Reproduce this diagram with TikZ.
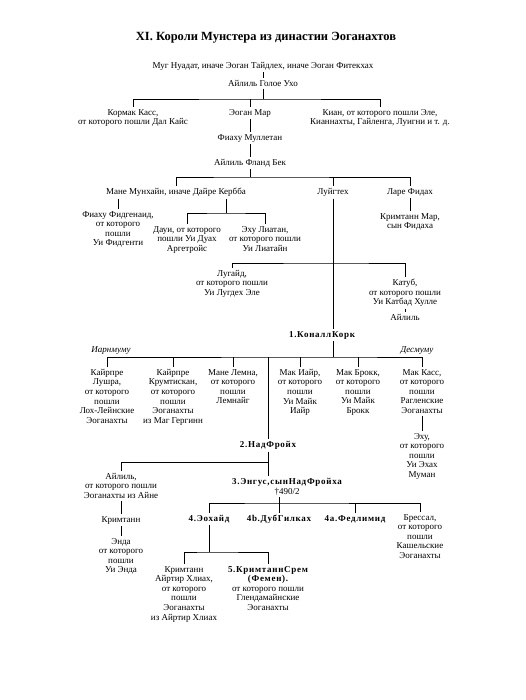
\documentclass[tikz,border=0pt]{standalone}
\usepackage{fontspec}
\setmainfont{Liberation Serif}
\usepackage{tikz}
\newcommand{\kingfont}{\bfseries\addfontfeature{LetterSpace=8}}
\tikzset{
  person/.style={anchor=north, align=center, inner sep=2pt, font=\fontsize{9}{9.6}\selectfont},
  king/.style={person, font=\fontsize{9}{9.6}\selectfont\kingfont},
  branch/.style={font=\fontsize{9}{9.6}\selectfont\itshape, inner sep=1pt},
  heading/.style={font=\fontsize{12.5}{14}\selectfont\bfseries},
  link/.style={line width=0.6pt}
}
\begin{document}
\begin{tikzpicture}[x=1pt, y=-1pt]
    \useasboundingbox (0,0) rectangle (526,700);
    \node[heading] (title) at (266,38) {XI. Короли Мунстера из династии Эоганахтов};

    \node[person] (mug) at (263,60) {Муг Нуадат, иначе Эоган Тайдлех, иначе Эоган Фитекхах};
    \node[person] (ailill1) at (263,78) {Айлиль Голое Ухо};
    \node[person] (cormac) at (133,107) {Кормак Касс,\\от которого пошли Дал Кайс};
    \node[person] (eoganmar) at (250,107) {Эоган Мар};
    \node[person] (cian) at (380,107) {Киан, от которого пошли Эле,\\Кианнахты, Гайленга, Луигни и т. д.};
    \node[person] (fiachu1) at (250,132) {Фиаху Муллетан};
    \node[person] (ailill2) at (250,157) {Айлиль Фланд Бек};
    \node[person] (maine1) at (176,186) {Мане Мунхайн, иначе Дайре Кербба};
    \node[person] (luigthech) at (333,186) {Луйгтех};
    \node[person] (lare) at (410,186) {Ларе Фидах};
    \node[person] (crimmar) at (410,211) {Кримтанн Мар,\\сын Фидаха};
    \node[person] (fiachu2) at (118,209) {Фиаху Фидгенаид,\\от которого\\пошли\\Уи Фидгенти};
    \node[person] (daui) at (187,224) {Дауи, от которого\\пошли Уи Дуах\\Аргетройс};
    \node[person] (echu1) at (265,224) {Эху Лиатан,\\от которого пошли\\Уи Лиатайн};
    \node[person] (lugaid) at (232,268) {Лугайд,\\от которого пошли\\Уи Лугдех Эле};
    \node[person] (cathub) at (405,277) {Катуб,\\от которого пошли\\Уи Катбад Хулле};
    \node[person] (ailill3) at (405,312) {Айлиль};
    \node[king] (conall) at (322,329) {1.КоналлКорк};

    \node[branch] (iarn) at (111,351) {Иарнмуму};
    \node[branch] (desm) at (417,351) {Десмуму};
    \node[person] (cairpre1) at (107,367) {Кайрпре\\Лушра,\\от которого\\пошли\\Лох-Лейнские\\Эоганахты};
    \node[person] (cairpre2) at (173,367) {Кайрпре\\Крумтискан,\\от которого\\пошли\\Эоганахты\\из Маг Гергинн};
    \node[person] (maine2) at (233,367) {Мане Лемна,\\от которого\\пошли\\Лемнайг};
    \node[person] (maciair) at (300,367) {Мак Иайр,\\от которого\\пошли\\Уи Майк\\Иайр};
    \node[person] (macbrokk) at (358,367) {Мак Брокк,\\от которого\\пошли\\Уи Майк\\Брокк};
    \node[person] (maccass) at (422,367) {Мак Касс,\\от которого\\пошли\\Рагленские\\Эоганахты};
    \node[person] (echu2) at (422,431) {Эху,\\от которого\\пошли\\Уи Эхах\\Муман};

    \node[king] (nadfroich) at (268,439) {2.НадФройх};
    \node[person] (ailill4) at (121,471) {Айлиль,\\от которого пошли\\Эоганахты из Айне};
    \node[person] (crimthann) at (121,514) {Кримтанн};
    \node[person] (enda) at (121,536) {Энда\\от которого\\пошли\\Уи Энда};
    \node[person] (engus) at (287,476) {{\kingfont 3.Энгус,сынНадФройха}\\†490/2};
    \node[king] (eochaid) at (209,513) {4.Эохайд};
    \node[king] (dub) at (279,513) {4b.ДубГилках};
    \node[king] (fedlimid) at (355,513) {4a.Федлимид};
    \node[person] (bressal) at (420,512) {Брессал,\\от которого\\пошли\\Кашельские\\Эоганахты};
    \node[person] (crim3) at (184,564) {Кримтанн\\Айртир Хлиах,\\от которого\\пошли\\Эоганахты\\из Айртир Хлиах};
    \node[person] (crim5) at (268,564) {{\kingfont 5.КримтаннСрем}\\{\kingfont (Фемен).}\\от которого пошли\\Глендамайнские\\Эоганахты};

    \coordinate (b1) at (263,99);
    \coordinate (b2) at (250,177);
    \coordinate (b3) at (226,213);
    \coordinate (b4) at (333,263);
    \coordinate (b5) at (333,357);
    \coordinate (b6) at (268,462);
    \coordinate (b7) at (279,503);
    \coordinate (b8) at (209,552);

    \draw[link] (mug) -- (ailill1);
    \draw[link] (ailill1) -- (b1);
    \draw[link] (cormac.north) |- (b1) -| (cian.north);
    \draw[link] (eoganmar.north) -- (eoganmar.north |- b1);
    \draw[link] (eoganmar) -- (fiachu1);
    \draw[link] (fiachu1) -- (ailill2);
    \draw[link] (ailill2) -- (b2);
    \draw[link] (maine1.north) |- (b2) -| (lare.north);
    \draw[link] (luigthech.north) -- (luigthech.north |- b2);
    \draw[link] (lare) -- (crimmar);
    \draw[link] (maine1.south -| fiachu2.north) -- (fiachu2.north);
    \draw[link] (maine1.south -| b3) -- (b3);
    \draw[link] (daui.north) |- (b3) -| (echu1.north);
    \draw[link] (luigthech.south) -- (luigthech.south |- conall.north);
    \draw[link] (lugaid.north) |- (b4) -| (cathub.north);
    \draw[link] (cathub) -- (ailill3);

    \draw[link] (conall.south -| b5) -- (b5);
    \draw[link] (cairpre1.north) |- (b5) -| (maccass.north);
    \foreach \n in {cairpre2, maine2, maciair, macbrokk}
        \draw[link] (\n.north) -- (\n.north |- b5);
    \draw[link] (nadfroich.north |- b5) -- (nadfroich.north);
    \draw[link] (maccass) -- (echu2);

    \draw[link] (nadfroich.south) -- (nadfroich.south |- engus.north);
    \draw[link] (ailill4.north) |- (b6);
    \draw[link] (ailill4) -- (crimthann);
    \draw[link] (crimthann) -- (enda);
    \draw[link] (engus.south -| dub.north) -- (dub.north);
    \draw[link] (eochaid.north) |- (b7) -| (bressal.north);
    \draw[link] (fedlimid.north) -- (fedlimid.north |- b7);
    \draw[link] (eochaid) -- (b8);
    \draw[link] (crim3.north) |- (b8) -| (crim5.north);
\end{tikzpicture}
\end{document}
